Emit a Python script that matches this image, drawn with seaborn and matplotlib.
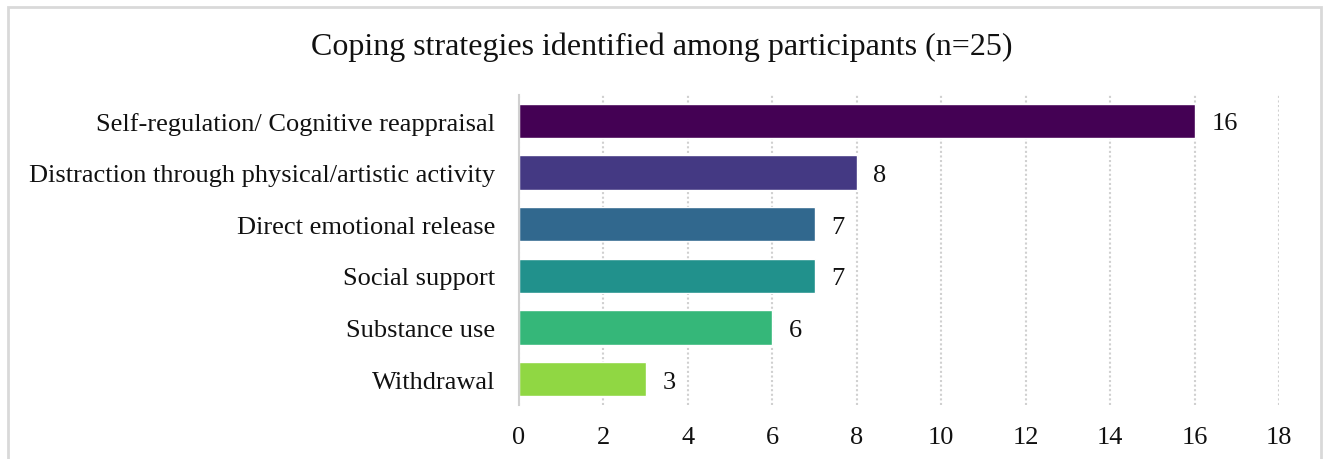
import matplotlib
matplotlib.use("Agg")
import matplotlib.pyplot as plt
import seaborn as sns
import pandas as pd
from matplotlib.patches import Rectangle

categories = [
    "Self-regulation/ Cognitive reappraisal",
    "Distraction through physical/artistic activity",
    "Direct emotional release",
    "Social support",
    "Substance use",
    "Withdrawal",
]
counts = [16, 8, 7, 7, 6, 3]
x_ticks = [0, 2, 4, 6, 8, 10, 12, 14, 16, 18]
title = "Coping strategies identified among participants (n=25)"

colors = ["#440154", "#443983", "#31688e", "#21918c", "#35b779", "#90d743"]

sns.set_theme(style="white")
plt.rcParams["font.family"] = ["Liberation Serif", "DejaVu Serif"]

df = pd.DataFrame({"category": categories, "count": counts})

fig = plt.figure(figsize=(13.23, 4.6), dpi=100)
ax = fig.add_axes([519 / 1323, 1 - 406 / 460, (1279 - 519) / 1323, (406 - 96) / 460])

sns.barplot(data=df, x="count", y="category", hue="category", palette=colors,
            legend=False, width=0.67, ax=ax, saturation=1)

ax.set_xlim(0, 18)
ax.set_ylim(5.5, -0.5)
ax.set_xticks(x_ticks)
ax.set_xlabel("")
ax.set_ylabel("")
ax.tick_params(axis="y", length=0, pad=17, labelsize=19, labelcolor="#111111")
ax.tick_params(axis="x", length=0, pad=15, labelsize=19, labelcolor="#111111")

for s in ["top", "right", "bottom"]:
    ax.spines[s].set_visible(False)
ax.spines["left"].set_color("#d0d0d0")
ax.spines["left"].set_linewidth(1.5)

ax.xaxis.grid(True, linestyle=(0, (1, 1.2)), color="#d0d0d0", linewidth=1.5)
ax.set_axisbelow(True)

for cont in ax.containers:
    for t in ax.bar_label(cont, padding=12, fontsize=19, color="#111111"):
        t.set_va("center_baseline")

fig.text(0.5, 1 - 47 / 460, title, ha="center", va="center", fontsize=23, color="#111111")

fig.patches.append(Rectangle((7.5 / 1323, -0.05), (1321 - 7.5) / 1323, 1 - 7.5 / 460 + 0.05,
                             transform=fig.transFigure, fill=False,
                             edgecolor="#d9d9d9", linewidth=2, clip_on=False))

fig.savefig("out.png", dpi=100)
